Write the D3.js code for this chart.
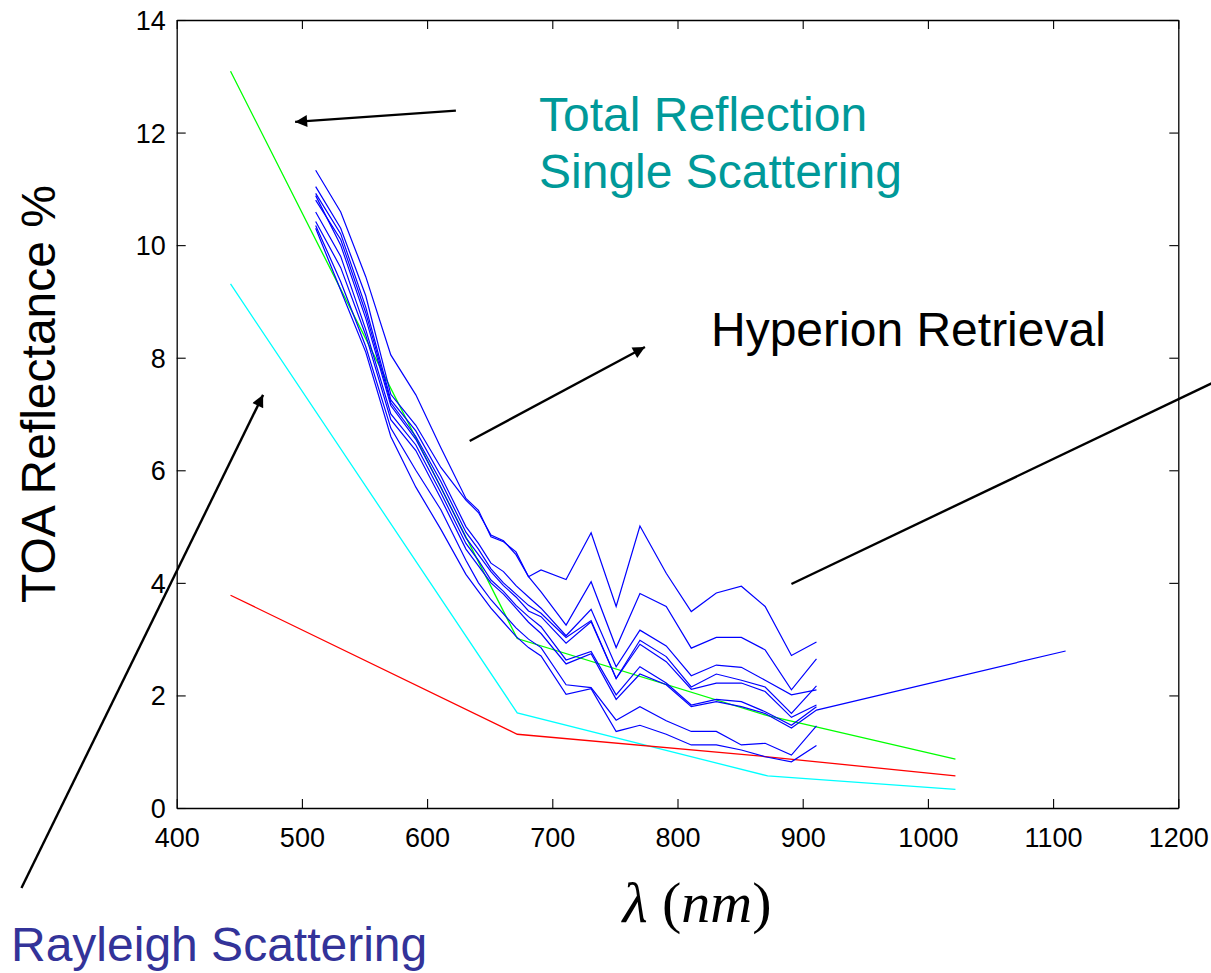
<!DOCTYPE html>
<html>
<head>
<meta charset="utf-8">
<script src="https://cdn.jsdelivr.net/npm/d3@7"></script>
<style>
  html, body { margin: 0; padding: 0; background: #ffffff; }
  svg { display: block; }
</style>
</head>
<body>
<svg id="chart" width="1211" height="973"></svg>
<script>
// Hyperion band centres (nm) used for the retrieved spectra
const hyperionBands = [511, 531, 551, 571, 591, 611, 631, 641, 651, 661, 671, 681, 691,
                       711, 731, 751, 770, 791, 811, 831, 851, 870, 891, 911];

// Retrieved TOA reflectance spectra (%), one array per pixel
const retrievalA = [11.33, 10.59, 9.44, 8.05, 7.34, 6.40, 5.50, 5.29, 4.82, 4.73, 4.55, 4.11, 4.23,
                    4.06, 4.89, 3.58, 5.01, 4.17, 3.49, 3.82, 3.94, 3.58, 2.71, 2.95];
const retrievalB = [11.04, 10.30, 9.10, 7.35, 6.80, 6.05, 5.47, 5.25, 4.85, 4.75, 4.50, 4.11, 3.84,
                    3.25, 4.02, 2.85, 3.81, 3.58, 2.84, 3.03, 3.03, 2.81, 2.10, 2.65];
const retrievalC = [10.92, 10.20, 8.90, 7.25, 6.70, 5.90, 5.00, 4.70, 4.35, 4.20, 3.95, 3.75, 3.55,
                    3.06, 3.53, 2.51, 3.16, 2.88, 2.35, 2.54, 2.50, 2.27, 2.01, 2.10];
const retrievalD = [10.80, 10.10, 8.80, 7.20, 6.60, 5.80, 4.90, 4.60, 4.25, 4.00, 3.80, 3.60, 3.46,
                    3.03, 3.33, 2.30, 2.98, 2.69, 2.15, 2.38, 2.27, 2.15, 1.68, 2.17];
const retrievalE = [10.88, 10.00, 8.70, 7.15, 6.55, 5.70, 4.80, 4.50, 4.20, 3.95, 3.75, 3.50, 3.40,
                    2.93, 3.31, 2.30, 2.91, 2.60, 2.11, 2.22, 2.22, 2.07, 1.61, 1.83];
const retrievalF = [10.59, 9.80, 8.50, 7.00, 6.45, 5.60, 4.70, 4.40, 4.05, 3.85, 3.60, 3.40, 3.22,
                    2.63, 2.78, 2.01, 2.51, 2.22, 1.83, 1.93, 1.89, 1.71, 1.47, 1.80];
const retrievalG = [10.42, 9.60, 8.40, 6.90, 6.35, 5.50, 4.60, 4.30, 4.00, 3.80, 3.55, 3.30, 3.10,
                    2.56, 2.74, 1.93, 2.38, 2.19, 1.80, 1.89, 1.80, 1.68, 1.42, 1.74];
const retrievalH = [10.35, 9.35, 8.20, 6.75, 6.00, 5.30, 4.40, 4.00, 3.70, 3.45, 3.20, 3.00, 2.85,
                    2.19, 2.14, 1.56, 1.80, 1.55, 1.36, 1.36, 1.12, 1.15, 0.94, 1.46];
const retrievalI = [10.30, 9.20, 8.10, 6.60, 5.70, 4.95, 4.15, 3.85, 3.55, 3.30, 3.05, 2.85, 2.70,
                    2.02, 2.12, 1.36, 1.47, 1.31, 1.12, 1.12, 1.03, 0.91, 0.82, 1.11];
// one spectrum carries an extra long-wave sample
const extraBand = [1110];
const retrievalGExtra = [2.79];

// Model curves at the four sun-photometer bands (nm)
const modelBands = [443, 672, 872, 1022];
const totalReflection = [13.09, 3.01, 1.64, 0.87];
const singleScattering = [3.78, 1.31, 0.91, 0.57];
const rayleighScattering = [9.31, 1.69, 0.57, 0.33];

// Axis ticks
const xTicks = [400, 500, 600, 700, 800, 900, 1000, 1100, 1200];
const yTicks = [0, 2, 4, 6, 8, 10, 12, 14];

(function draw() {
  const svg = d3.select("#chart");
  const plotLeft = 176.7, plotRight = 1178.3, plotTop = 20, plotBottom = 808;

  const x = d3.scaleLinear().domain([400, 1200]).range([plotLeft, plotRight]);
  const y = d3.scaleLinear().domain([0, 14]).range([plotBottom, plotTop]);

  const font = "'Liberation Sans', Arial, Helvetica, sans-serif";
  const fmt = d3.format("d");

  // Axes with inward ticks, mirrored on top and right like a boxed plot
  const tickLen = 9;
  const gx = svg.append("g").attr("transform", `translate(0,${plotBottom})`)
    .call(d3.axisBottom(x).tickValues(xTicks).tickFormat(fmt)
      .tickSizeInner(-tickLen).tickSizeOuter(0).tickPadding(20));
  const gxTop = svg.append("g").attr("transform", `translate(0,${plotTop})`)
    .call(d3.axisTop(x).tickValues(xTicks).tickSizeInner(-tickLen).tickSizeOuter(0).tickFormat(""));
  const gy = svg.append("g").attr("transform", `translate(${plotLeft},0)`)
    .call(d3.axisLeft(y).tickValues(yTicks).tickFormat(fmt)
      .tickSizeInner(-tickLen).tickSizeOuter(0).tickPadding(11));
  const gyRight = svg.append("g").attr("transform", `translate(${plotRight},0)`)
    .call(d3.axisRight(y).tickValues(yTicks).tickSizeInner(-tickLen).tickSizeOuter(0).tickFormat(""));

  [gx, gxTop, gy, gyRight].forEach(g => {
    g.select(".domain").attr("stroke", "#000").attr("stroke-width", 1.3);
    g.selectAll(".tick line").attr("stroke", "#000").attr("stroke-width", 1.1);
    g.selectAll(".tick text").attr("fill", "#000")
      .style("font-family", font).style("font-size", "27px");
  });
  gx.selectAll(".tick text").attr("dy", "0.71em");
  gy.selectAll(".tick text").attr("dy", "0.35em");

  // Plot clip so the curves stay inside the frame
  svg.append("clipPath").attr("id", "plotClip")
    .append("rect").attr("x", plotLeft).attr("y", plotTop)
    .attr("width", plotRight - plotLeft).attr("height", plotBottom - plotTop);

  const plot = svg.append("g").attr("clip-path", "url(#plotClip)");
  const line = d3.line().x(d => x(d[0])).y(d => y(d[1]));

  // Model curves
  const models = [
    { values: rayleighScattering, color: "#00ffff" },
    { values: singleScattering, color: "#ff0000" },
    { values: totalReflection, color: "#00ff00" }
  ];
  models.forEach(m => {
    plot.append("path")
      .datum(d3.zip(modelBands, m.values))
      .attr("d", line)
      .attr("fill", "none")
      .attr("stroke", m.color)
      .attr("stroke-width", 1.3);
  });

  // Hyperion retrievals
  const retrievals = [
    d3.zip(hyperionBands, retrievalA),
    d3.zip(hyperionBands, retrievalB),
    d3.zip(hyperionBands, retrievalC),
    d3.zip(hyperionBands, retrievalD),
    d3.zip(hyperionBands, retrievalE),
    d3.zip(hyperionBands, retrievalF),
    d3.zip(hyperionBands, retrievalG).concat(d3.zip(extraBand, retrievalGExtra)),
    d3.zip(hyperionBands, retrievalH),
    d3.zip(hyperionBands, retrievalI)
  ];
  retrievals.forEach(r => {
    plot.append("path")
      .datum(r)
      .attr("d", line)
      .attr("fill", "none")
      .attr("stroke", "#0000ff")
      .attr("stroke-width", 1.2);
  });

  // Axis titles
  svg.append("text")
    .attr("transform", `translate(55,394) rotate(-90)`)
    .attr("text-anchor", "middle")
    .style("font-family", font).style("font-size", "48px")
    .attr("fill", "#000")
    .text("TOA Reflectance %");

  const xTitle = svg.append("text")
    .attr("x", 697).attr("y", 922)
    .attr("text-anchor", "middle")
    .style("font-family", "'Liberation Serif', 'Times New Roman', serif")
    .style("font-size", "58px")
    .attr("fill", "#000");
  xTitle.append("tspan").style("font-style", "italic").text("λ");
  xTitle.append("tspan").text(" (");
  xTitle.append("tspan").style("font-style", "italic").text("nm");
  xTitle.append("tspan").text(")");

  // Annotations, placed in data units
  svg.append("defs").append("marker")
    .attr("id", "arrowHead")
    .attr("viewBox", "0 0 10 10")
    .attr("refX", 10).attr("refY", 5)
    .attr("markerUnits", "userSpaceOnUse")
    .attr("markerWidth", 17).attr("markerHeight", 12)
    .attr("orient", "auto")
    .append("path").attr("d", "M0,0 L10,5 L0,10 Z").attr("fill", "#000");

  const arrows = [
    { from: [623, 12.39], to: [494.6, 12.19], head: true },   // total reflection / single scattering
    { from: [634, 6.52], to: [774, 8.19], head: true },       // Hyperion retrieval
    { from: [891, 3.98], to: [1230, 7.58], head: false },     // Hyperion retrieval (right)
    { from: [276, -1.42], to: [469, 7.34], head: true }       // Rayleigh scattering
  ];
  arrows.forEach(a => {
    const l = svg.append("line")
      .attr("x1", x(a.from[0])).attr("y1", y(a.from[1]))
      .attr("x2", x(a.to[0])).attr("y2", y(a.to[1]))
      .attr("stroke", "#000").attr("stroke-width", 2.4);
    if (a.head) l.attr("marker-end", "url(#arrowHead)");
  });

  const labels = [
    { text: "Total Reflection", x: 539, y: 131, color: "#009999" },
    { text: "Single Scattering", x: 539, y: 188, color: "#009999" },
    { text: "Hyperion Retrieval", x: 711, y: 346, color: "#000000" },
    { text: "Rayleigh Scattering", x: 11, y: 961, color: "#333399" }
  ];
  labels.forEach(t => {
    svg.append("text")
      .attr("x", t.x).attr("y", t.y)
      .style("font-family", font).style("font-size", "48px")
      .attr("fill", t.color)
      .text(t.text);
  });
})();
</script>
</body>
</html>
